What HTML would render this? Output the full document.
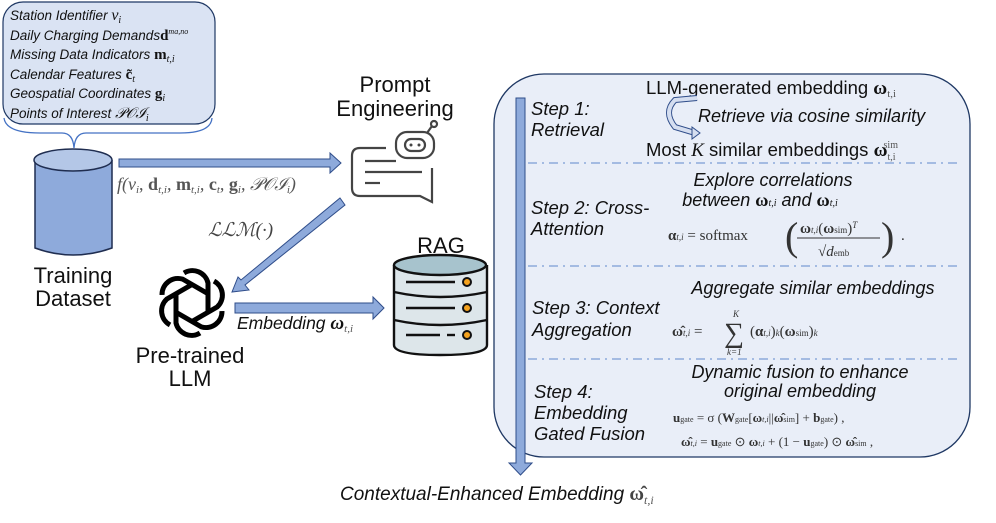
<!DOCTYPE html>
<html><head><meta charset="utf-8"><style>
html,body{margin:0;padding:0;background:#fff;}
svg{display:block;}
.s{font-family:"Liberation Sans",sans-serif;}
.i{font-family:"Liberation Sans",sans-serif;font-style:italic;}
.m{font-family:"Liberation Serif",serif;}
</style></head><body>
<svg width="996" height="523" viewBox="0 0 996 523" xmlns="http://www.w3.org/2000/svg">
<!-- top-left info box -->
<rect x="3" y="2" width="212" height="122" rx="20" fill="#dae3f3" stroke="#1f3864" stroke-width="1.2"/>
<path d="M4,118 Q6,133 40,133 L62,133 Q73,133 74,148 Q75,133 86,133 L180,133 Q211,133 212,118" fill="none" stroke="#4472c4" stroke-width="1.3"/>
<g class="i" font-size="13.5" fill="#111">
<text x="10" y="20">Station Identifier <tspan class="m" font-size="16">v<tspan font-size="10" dy="3">i</tspan></tspan></text>
<text x="10" y="40">Daily Charging Demands<tspan class="m" font-weight="bold" font-style="normal" font-size="15">d</tspan><tspan class="m" font-size="8" dy="-6">ma,no</tspan></text>
<text x="10" y="59">Missing Data Indicators <tspan class="m" font-weight="bold" font-style="normal" font-size="15">m</tspan><tspan class="m" font-size="10" dy="3">t,i</tspan></text>
<text x="10" y="79">Calendar Features <tspan class="m" font-weight="bold" font-style="normal" font-size="15">c̃</tspan><tspan class="m" font-size="10" dy="3">t</tspan></text>
<text x="10" y="98">Geospatial Coordinates <tspan class="m" font-weight="bold" font-style="normal" font-size="15">g</tspan><tspan class="m" font-size="10" dy="3">i</tspan></text>
<text x="10" y="118">Points of Interest <tspan class="m" font-size="15">𝒫𝒪ℐ<tspan font-size="10" dy="3">i</tspan></tspan></text>
</g>
<!-- cylinder -->
<path d="M35,160 L35,248 Q73,262 112,248 L112,160" fill="#8eaadb" stroke="#1f2d50" stroke-width="1.5"/>
<ellipse cx="73" cy="160" rx="39" ry="11" fill="#b4c7e7" stroke="#1f2d50" stroke-width="1.5"/>
<text class="s" x="73" y="283" font-size="22" text-anchor="middle" fill="#111">Training</text>
<text class="s" x="73" y="306" font-size="22" text-anchor="middle" fill="#111">Dataset</text>
<!-- arrow to prompt -->
<polygon points="119,159 330,159 330,153 341,163 330,173 330,167 119,167" fill="#8eaadb" stroke="#2f4d8a" stroke-width="1"/>
<text class="m" x="117" y="190" font-size="18" fill="#555" font-style="italic">f(v<tspan font-size="11" dy="3">i</tspan><tspan dy="-3" font-style="normal">, </tspan><tspan font-weight="bold" font-style="normal">d</tspan><tspan font-size="11" dy="3">t,i</tspan><tspan dy="-3">, </tspan><tspan font-weight="bold" font-style="normal">m</tspan><tspan font-size="11" dy="3">t,i</tspan><tspan dy="-3">, </tspan><tspan font-weight="bold" font-style="normal">c</tspan><tspan font-size="11" dy="3">t</tspan><tspan dy="-3">, </tspan><tspan font-weight="bold" font-style="normal">g</tspan><tspan font-size="11" dy="3">i</tspan><tspan dy="-3">, 𝒫𝒪ℐ</tspan><tspan font-size="11" dy="3">i</tspan><tspan dy="-3">)</tspan></text>
<!-- prompt engineering -->
<text class="s" x="395" y="92" font-size="22" text-anchor="middle" fill="#111">Prompt</text>
<text class="s" x="395" y="116" font-size="22" text-anchor="middle" fill="#111">Engineering</text>
<g fill="none" stroke="#444" stroke-width="2.2">
<path d="M386,148 L360,148 Q352,148 352,156 L352,188 Q352,196 360,196 L420,196 L432,202 L432,168"/>
<line x1="365" y1="161" x2="396" y2="161"/>
<line x1="365" y1="172" x2="422" y2="172"/>
<line x1="365" y1="183" x2="380" y2="183"/>
<rect x="396" y="132" width="38" height="26" rx="11"/>
<rect x="405" y="139" width="20" height="12" rx="6"/>
<line x1="427" y1="133" x2="432" y2="126"/>
<circle cx="434" cy="124" r="3"/>
</g>
<circle cx="411" cy="145" r="1.5" fill="#444"/><circle cx="419" cy="145" r="1.5" fill="#444"/>
<!-- diagonal arrow -->
<polygon points="340,198 345,205 245,285 249,290 232,292 238,277 241,280" fill="#8eaadb" stroke="#2f4d8a" stroke-width="1"/>
<text class="m" x="208" y="236" font-size="19" fill="#444" font-style="italic">ℒℒℳ(·)</text>
<!-- openai logo -->
<g fill="none" stroke="#000" stroke-width="5">
<g transform="translate(192,303)">
<path d="M-8,-30 A16,16 0 0 1 16,-20 L16,8"/>
<path d="M-8,-30 A16,16 0 0 1 16,-20 L16,8" transform="rotate(60)"/>
<path d="M-8,-30 A16,16 0 0 1 16,-20 L16,8" transform="rotate(120)"/>
<path d="M-8,-30 A16,16 0 0 1 16,-20 L16,8" transform="rotate(180)"/>
<path d="M-8,-30 A16,16 0 0 1 16,-20 L16,8" transform="rotate(240)"/>
<path d="M-8,-30 A16,16 0 0 1 16,-20 L16,8" transform="rotate(300)"/>
</g>
</g>
<text class="s" x="190" y="363" font-size="22" text-anchor="middle" fill="#111">Pre-trained</text>
<text class="s" x="190" y="386" font-size="22" text-anchor="middle" fill="#111">LLM</text>
<!-- embedding arrow -->
<polygon points="235,303 373,303 373,297 384,308 373,319 373,313 235,313" fill="#8eaadb" stroke="#2f4d8a" stroke-width="1"/>
<text class="i" x="237" y="329" font-size="17.5" fill="#111">Embedding <tspan class="m" font-weight="bold" font-size="19">ω</tspan><tspan class="m" font-size="11" dy="3" fill="#555">t,i</tspan></text>
<!-- RAG -->
<text class="s" x="441" y="253" font-size="22" text-anchor="middle" fill="#111">RAG</text>
<g stroke="#111" stroke-width="2.4">
<path d="M394,265 L394,345 Q394,355 440,355 Q487,355 487,345 L487,265" fill="#dde6ea"/>
<ellipse cx="440" cy="265" rx="46" ry="10" fill="#a7c3cd"/>
<path d="M394,292 Q440,302 487,292" fill="none"/>
<path d="M394,320 Q440,330 487,320" fill="none"/>
<line x1="406" y1="282" x2="455" y2="282"/>
<line x1="406" y1="308" x2="455" y2="308"/>
<line x1="406" y1="335" x2="440" y2="335"/><line x1="447" y1="335" x2="455" y2="335"/>
<circle cx="467" cy="282" r="4" fill="#f4a21d" stroke-width="2"/>
<circle cx="467" cy="308" r="4" fill="#f4a21d" stroke-width="2"/>
<circle cx="467" cy="335" r="4" fill="#f4a21d" stroke-width="2"/>
</g>
<!-- big box -->
<rect x="494" y="74" width="476" height="383" rx="50" fill="#e9eef8" stroke="#1f3864" stroke-width="1.3"/>
<g stroke="#8eaadb" stroke-width="1.5" stroke-dasharray="9,5,2,5">
<line x1="528" y1="163" x2="960" y2="163"/>
<line x1="528" y1="266" x2="960" y2="266"/>
<line x1="528" y1="359" x2="960" y2="359"/>
</g>
<polygon points="516,98 525,98 525,463 532,463 520.5,475 509,463 516,463" fill="#8eaadb" stroke="#2f4d8a" stroke-width="1"/>
<g class="i" font-size="18.5" fill="#111">
<text x="531" y="115">Step 1:</text>
<text x="531" y="136">Retrieval</text>
<text x="531" y="214">Step 2: Cross-</text>
<text x="531" y="235">Attention</text>
<text x="532" y="314">Step 3: Context</text>
<text x="532" y="336">Aggregation</text>
<text x="534" y="398">Step 4:</text>
<text x="534" y="419">Embedding</text>
<text x="534" y="440">Gated Fusion</text>
</g>
<text class="s" x="646" y="94" font-size="18.5" fill="#111">LLM-generated embedding <tspan class="m" font-weight="bold" font-size="19">ω</tspan><tspan class="m" font-size="11" dy="3" fill="#555">t,i</tspan></text>
<path d="M697,98 L675,100 Q663,112 675,127 L695,133" fill="none" stroke="#2f4d8a" stroke-width="6"/>
<path d="M697,98 L675,100 Q663,112 675,127 L695,133" fill="none" stroke="#d5def0" stroke-width="4"/>
<polygon points="692,127 700,133 692,139" fill="#d5def0" stroke="#2f4d8a"/>
<text class="i" x="698" y="122" font-size="18" fill="#111">Retrieve via cosine similarity</text>
<text class="s" x="646" y="156" font-size="18.5" fill="#111">Most <tspan class="m" font-style="italic" font-size="19">K</tspan> similar embeddings <tspan class="m" font-weight="bold" font-size="19">ω</tspan><tspan class="m" font-size="10" dy="4" fill="#555">t,i</tspan><tspan class="m" font-size="10" dx="-12" dy="-12" fill="#555">sim</tspan></text>
<g class="i" font-size="18" fill="#111" text-anchor="middle">
<text x="773" y="186">Explore correlations</text>
<text x="760" y="206">between <tspan class="m" font-weight="bold" font-style="normal">ω</tspan><tspan class="m" font-size="10">t,i</tspan> and <tspan class="m" font-weight="bold" font-style="normal">ω</tspan><tspan class="m" font-size="10">t,i</tspan></text>
<text x="813" y="294">Aggregate similar embeddings</text>
<text x="800" y="378">Dynamic fusion to enhance</text>
<text x="800" y="397">original embedding</text>
</g>
<g class="m" font-size="15" fill="#333">
<text x="668" y="240"><tspan font-weight="bold">α</tspan><tspan font-size="9" font-style="italic">t,i</tspan> = softmax</text>
<text x="800" y="233" font-size="15"><tspan font-weight="bold">ω</tspan><tspan font-size="9" font-style="italic">t,i</tspan>(<tspan font-weight="bold">ω</tspan><tspan font-size="9">sim</tspan>)<tspan font-size="9" font-style="italic" dy="-5">T</tspan></text>
<line x1="797" y1="238" x2="880" y2="238" stroke="#333" stroke-width="1"/>
<text x="818" y="256">√<tspan font-style="italic">d</tspan><tspan font-size="9">emb</tspan></text>
<text x="785" y="250" font-size="40" font-weight="100">(</text>
<text x="881" y="250" font-size="40" font-weight="100">)</text>
<text x="901" y="240">.</text>
<text x="672" y="336"><tspan font-weight="bold">ω̂</tspan><tspan font-size="9" font-style="italic">t,i</tspan> = </text>
<text x="724" y="342" font-size="28">∑</text>
<text x="733" y="317" font-size="9" font-style="italic">K</text>
<text x="727" y="355" font-size="9" font-style="italic">k=1</text>
<text x="750" y="336">(<tspan font-weight="bold">α</tspan><tspan font-size="9" font-style="italic">t,i</tspan>)<tspan font-size="9" font-style="italic">k</tspan>(<tspan font-weight="bold">ω</tspan><tspan font-size="9">sim</tspan>)<tspan font-size="9" font-style="italic">k</tspan></text>
<text x="673" y="422" font-size="13"><tspan font-weight="bold">u</tspan><tspan font-size="8">gate</tspan> = σ (<tspan font-weight="bold">W</tspan><tspan font-size="8">gate</tspan>[<tspan font-weight="bold">ω</tspan><tspan font-size="8" font-style="italic">t,i</tspan>||<tspan font-weight="bold">ω̂</tspan><tspan font-size="8">sim</tspan>] + <tspan font-weight="bold">b</tspan><tspan font-size="8">gate</tspan>) ,</text>
<text x="681" y="446" font-size="13"><tspan font-weight="bold">ω̂</tspan><tspan font-size="8" font-style="italic">t,i</tspan> = <tspan font-weight="bold">u</tspan><tspan font-size="8">gate</tspan> ⊙ <tspan font-weight="bold">ω</tspan><tspan font-size="8" font-style="italic">t,i</tspan> + (1 − <tspan font-weight="bold">u</tspan><tspan font-size="8">gate</tspan>) ⊙ <tspan font-weight="bold">ω̂</tspan><tspan font-size="8">sim</tspan> ,</text>
</g>
<text class="i" x="340" y="500" font-size="19" fill="#111">Contextual-Enhanced Embedding <tspan class="m" font-weight="bold" font-style="normal" font-size="20" fill="#444">ω̂</tspan><tspan class="m" font-size="12" dy="4" fill="#555">t,i</tspan></text>
</svg>
</body></html>
